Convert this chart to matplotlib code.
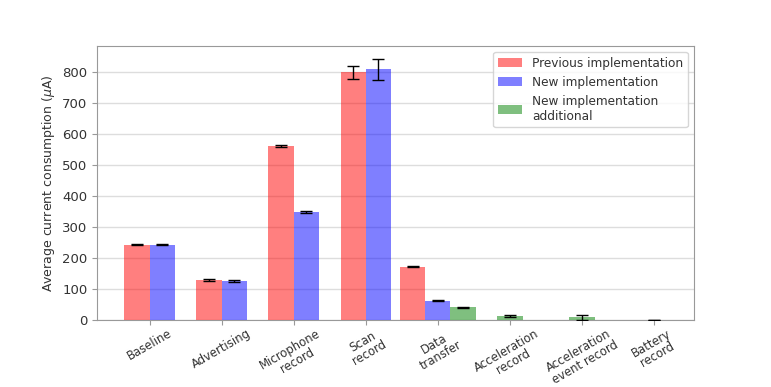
import numpy as np
import matplotlib.pyplot as plt

categories = ['Baseline', 'Advertising', 'Microphone\nrecord', 'Scan\nrecord', 'Data\ntransfer',
              'Acceleration\nrecord', 'Acceleration\nevent record', 'Battery\nrecord']

prev_vals = [244, 130, 563, 800, 173]
prev_err = [2, 4, 3, 21, 2]
new_vals = [244, 128, 350, 810, 64]
new_err = [2, 4, 4, 34, 2]
add_vals = [42, 15, 10, 1]
add_err = [1, 4, 9, 1]

width = 0.35
x = np.arange(len(categories))

fig, ax = plt.subplots()
fig.set_size_inches((7.71, 3.87))
fig.subplots_adjust(left=0.126, right=0.9, top=0.882, bottom=0.172)

text_color = '#333333'
spine_color = '#999999'

# first four categories: red/blue side by side around tick
# data transfer: red, blue, green centered on tick
# remaining: green only, centered on tick
prev_x = list(x[:4] - width / 2) + [x[4] - width]
new_x = list(x[:4] + width / 2) + [x[4]]
add_x = [x[4] + width] + list(x[5:])

err_style = dict(ecolor='black', elinewidth=1, capthick=1)
ax.bar(prev_x, prev_vals, width, yerr=prev_err, capsize=4, color='red', alpha=0.5,
       error_kw=err_style, label='Previous implementation', zorder=3)
ax.bar(new_x, new_vals, width, yerr=new_err, capsize=4, color='blue', alpha=0.5,
       error_kw=err_style, label='New implementation', zorder=3)
ax.bar(add_x, add_vals, width, yerr=add_err, capsize=4, color='green', alpha=0.5,
       error_kw=err_style, label='New implementation\nadditional', zorder=3)

ax.set_ylabel('Average current consumption ($\\mu$A)', fontsize=9, color=text_color)
ax.set_xticks(x, categories, rotation=30, fontsize=8.4, color=text_color, linespacing=1.0)
ax.set_yticks(np.arange(0, 900, 100))
ax.tick_params(axis='y', labelsize=9.5, labelcolor=text_color, color=spine_color)
ax.tick_params(axis='x', color=spine_color, pad=1)
ax.yaxis.grid(True, color='#dddddd', linewidth=1, zorder=0)
ax.set_axisbelow(True)
for s in ax.spines.values():
    s.set_color(spine_color)

leg = ax.legend(loc='upper right', fontsize=8.7)
for t in leg.get_texts():
    t.set_color(text_color)

fig.savefig('out.png', dpi=100)
plt.close(fig)
